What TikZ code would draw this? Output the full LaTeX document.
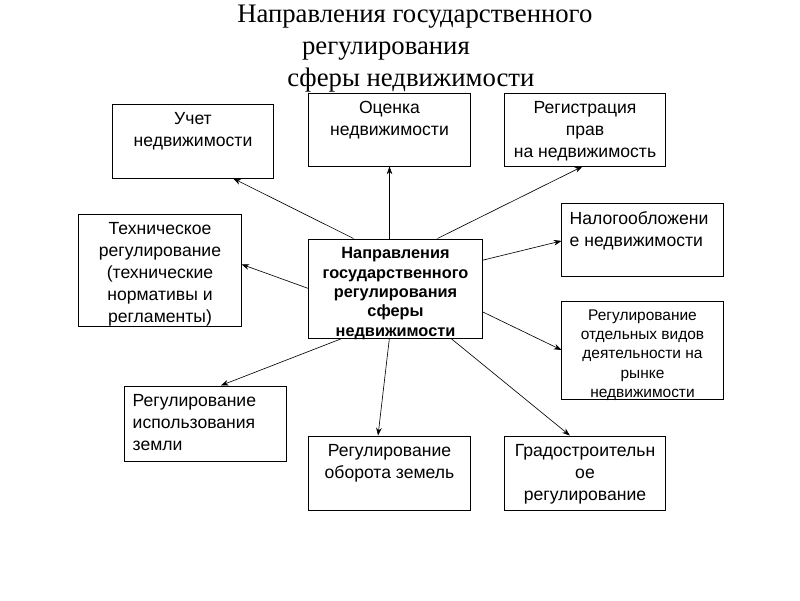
\documentclass[tikz,border=0pt]{standalone}
\usepackage{fontspec}
\setmainfont{Liberation Sans}
\newfontfamily\titlefont{Liberation Serif}
\usetikzlibrary{arrows.meta}
\newcommand{\boxtext}[3]{\parbox[c][#2][t]{#1}{\vspace*{6pt}#3}}
\tikzstyle{block} = [rectangle, draw=black, line width=0.7pt, inner sep=0pt,
font=\fontsize{12.5pt}{15.6pt}\selectfont]
\tikzstyle{mainblock} = [block, font=\fontsize{11.6pt}{13.8pt}\selectfont\bfseries]
\tikzstyle{smallblock} = [block, font=\fontsize{11pt}{13.8pt}\selectfont]
\tikzstyle{arrow} = [line width=0.45pt,-{Stealth[length=5.5pt,width=4pt]}]

\begin{document}
\begin{tikzpicture}[x=0.025cm, y=-0.025cm]
    \useasboundingbox (0,0) rectangle (800,600);
    \node (title) [anchor=north west, align=left, inner sep=0pt,
        font=\titlefont\fontsize{19pt}{22.7pt}\selectfont] at (237,5)
        {Направления государственного\\ \hspace*{1.62cm}регулирования\\ \hspace*{1.25cm}сферы недвижимости};

    \node (ctr) [mainblock] at (395.5,288.5) {\boxtext{4.325cm}{2.475cm}{\centering Направления\\ государственного\\ регулирования\\ сферы\\ недвижимости}};
    \node (uchet) [block] at (193,141) {\boxtext{4cm}{1.85cm}{\centering Учет\\ недвижимости}};
    \node (ocenka) [block] at (389.5,129.5) {\boxtext{4.025cm}{1.825cm}{\centering Оценка\\ недвижимости}};
    \node (registr) [block] at (585,129.5) {\boxtext{4cm}{1.825cm}{\centering Регистрация\\ прав\\ на недвижимость}};
    \node (nalog) [block] at (642.5,239.5) {\boxtext{4.025cm}{1.825cm}{\raggedright\leftskip=5.5pt Налогообложени\\ е недвижимости}};
    \node (otdel) [smallblock] at (642.5,350) {\boxtext{4.025cm}{2.45cm}{\centering Регулирование\\ отдельных видов\\ деятельности на\\ рынке\\ недвижимости}};
    \node (tech) [block] at (160,270) {\boxtext{4.05cm}{2.8cm}{\centering Техническое\\ регулирование\\ (технические\\ нормативы и\\ регламенты)}};
    \node (isp) [block] at (205.5,423.5) {\boxtext{4.025cm}{1.875cm}{\raggedright\leftskip=5.5pt Регулирование\\ использования\\ земли}};
    \node (oborot) [block] at (389.5,473) {\boxtext{4.025cm}{1.85cm}{\centering Регулирование\\ оборота земель}};
    \node (gradostr) [block] at (585,473) {\boxtext{4cm}{1.85cm}{\centering Градостроительн\\ ое\\ регулирование}};

    \draw[arrow] (ctr.130.6) -- (uchet.-43.5);
    \draw[arrow] (ocenka.south |- ctr.north) -- (ocenka.south);
    \draw[arrow] (ctr.50) -- (registr.-94.7);
    \draw[arrow] (ctr.18.8) -- (nalog.181.8);
    \draw[arrow] (ctr.-15.8) -- (otdel.west);
    \draw[arrow] (ctr.west) -- (tech.4.2);
    \draw[arrow] (ctr.-137.2) -- (isp.68.9);
    \draw[arrow] (ctr.-97.5) -- (oborot.107.3);
    \draw[arrow] (ctr.-42.8) -- (gradostr.112);
\end{tikzpicture}
\end{document}
